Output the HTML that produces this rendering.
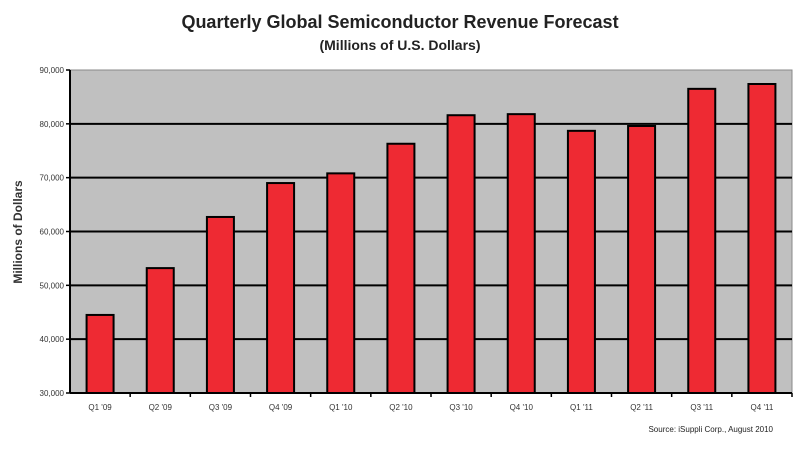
<!DOCTYPE html>
<html><head><meta charset="utf-8"><style>
body{margin:0;background:#fff;}
svg text{font-family:"Liberation Sans",sans-serif;}
</style></head><body>
<svg width="800" height="445" xmlns="http://www.w3.org/2000/svg">
<text x="400" y="28" text-anchor="middle" font-size="18" font-weight="bold" fill="#222">Quarterly Global Semiconductor Revenue Forecast</text>
<text x="400" y="50" text-anchor="middle" font-size="14" font-weight="bold" fill="#222">(Millions of U.S. Dollars)</text>
<rect x="70" y="70" width="722" height="323" fill="#c0c0c0" stroke="#888"/>
<g id="grid"></g><g id="bars"></g><g id="axes"></g>
<text transform="translate(22,232) rotate(-90)" text-anchor="middle" font-size="12" font-weight="bold" fill="#333">Millions of Dollars</text>
<text x="773" y="432" text-anchor="end" font-size="8" fill="#222">Source: iSuppli Corp., August 2010</text>
</svg>
<script>
const categories=["Q1 '09","Q2 '09","Q3 '09","Q4 '09","Q1 '10","Q2 '10","Q3 '10","Q4 '10","Q1 '11","Q2 '11","Q3 '11","Q4 '11"];
const revenue=[44500,53200,62700,69000,70800,76300,81600,81800,78700,79600,86500,87400];
const yTicks=[30000,40000,50000,60000,70000,80000,90000];
const yTickLabels=["30,000","40,000","50,000","60,000","70,000","80,000","90,000"];
const NS="http://www.w3.org/2000/svg";
const x0=70,x1=792,yTop=70,yBot=393,yMin=30000,yMax=90000;
const y=v=>yBot-(v-yMin)/(yMax-yMin)*(yBot-yTop);
const bw=(x1-x0)/categories.length;
const xc=i=>x0+bw*(i+0.5);
function mk(t,a,p){const e=document.createElementNS(NS,t);for(const k in a)e.setAttribute(k,a[k]);p.appendChild(e);return e;}
const grid=document.getElementById('grid'),bars=document.getElementById('bars'),axes=document.getElementById('axes');
yTicks.forEach((v,i)=>{
 if(v>yMin&&v<yMax){const l=mk('line',{x1:x0,x2:x1,y1:y(v),y2:y(v),stroke:'#000','stroke-width':2},grid);
 
 }
 const tk=mk('line',{x1:x0-4,x2:x0,y1:y(v),y2:y(v),stroke:'#000','stroke-width':1.5},axes);
 
 
 const t=mk('text',{x:x0-6,y:y(v)+3,'text-anchor':'end','font-size':8,fill:'#333'},axes);
 t.textContent=yTickLabels[i];
 
 
});
categories.forEach((c,i)=>{
 const w=27;
 const r=mk('rect',{x:xc(i)-w/2,y:y(revenue[i]),width:w,height:yBot-y(revenue[i]),fill:'#ee2a33',stroke:'#000','stroke-width':2},bars);
 
 
 const t=mk('text',{x:xc(i),y:yBot+17,'text-anchor':'middle','font-size':8,fill:'#333'},axes);
 t.textContent=c;
 
 
 const tk=mk('line',{x1:x0+bw*(i+1),x2:x0+bw*(i+1),y1:yBot,y2:yBot+4,stroke:'#000','stroke-width':1.5},axes);
 
 
});
const ya=mk('line',{x1:x0,x2:x0,y1:yTop,y2:yBot,stroke:'#000','stroke-width':2},axes);


const xa=mk('line',{x1:x0,x2:x1,y1:yBot,y2:yBot,stroke:'#000','stroke-width':2},axes);


</script>
</body></html>
